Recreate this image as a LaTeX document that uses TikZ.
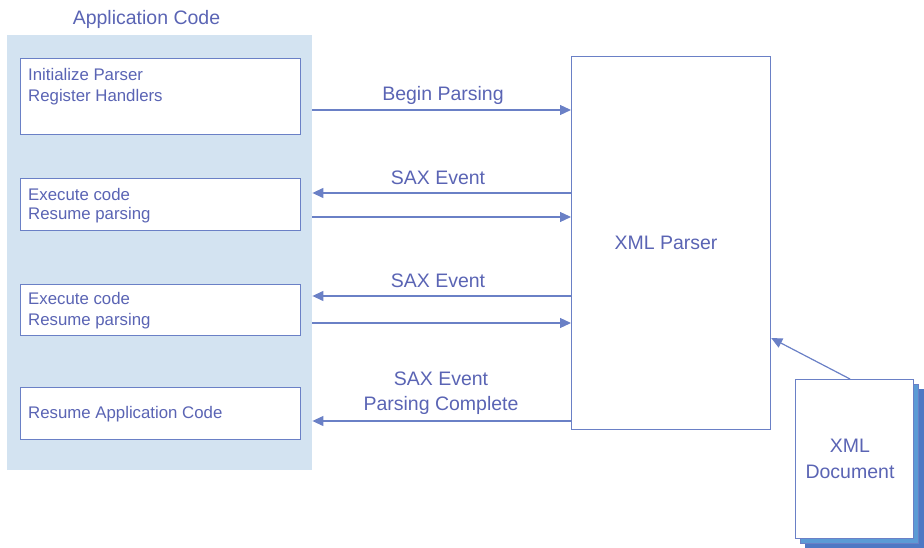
\documentclass[tikz,border=0pt]{standalone}
\usepackage{fontspec}
\setmainfont{Liberation Sans}
\usetikzlibrary{arrows.meta,calc}
\definecolor{txt}{HTML}{5A64B4}
\definecolor{ln}{HTML}{6A80C6}
\definecolor{panel}{HTML}{D3E3F1}
\definecolor{shadowA}{HTML}{5B9BD5}
\definecolor{shadowB}{HTML}{4E78C4}
\tikzset{
  box/.style={draw=ln, line width=1.2pt, fill=white, inner sep=0pt},
  lbl/.style={text=txt, font=\fontsize{19.5}{25}\selectfont, inner sep=0pt, align=center},
  btxt/.style={text=txt, font=\fontsize{16.8}{22}\selectfont, inner sep=0pt, anchor=west},
  arr/.style={draw=ln, line width=1.2pt, -{Triangle[length=11pt,width=10pt]}},
}
\begin{document}
\begin{tikzpicture}[x=1pt,y=-1pt]
\useasboundingbox (0,0) rectangle (924,548);
% panel
\node[fill=panel, minimum width=305pt, minimum height=435pt, inner sep=0pt, anchor=north west] (panel) at (7,35) {};
\node[lbl] (apptitle) at (146.5,19.5) {Application Code};
% boxes
\node[box, minimum width=280pt, minimum height=76pt, anchor=north west] (b1) at (20,58) {};
\node[box, minimum width=280pt, minimum height=52pt, anchor=north west] (b2) at (20,178) {};
\node[box, minimum width=280pt, minimum height=51pt, anchor=north west] (b3) at (20,284) {};
\node[box, minimum width=280pt, minimum height=52pt, anchor=north west] (b4) at (20,387) {};
\node[btxt] (t1a) at (28,74.5) {Initialize Parser};
\node[btxt] (t1b) at (28,97.5) {Register Handlers};
\node[btxt] (t2a) at (28,194) {Execute code};
\node[btxt] (t2b) at (28,215.5) {Resume parsing};
\node[btxt] (t3a) at (28,298) {Execute code};
\node[btxt] (t3b) at (28,321) {Resume parsing};
\node[btxt] (t4) at (28,414.5) {Resume Application Code};
% parser
\node[box, minimum width=199pt, minimum height=373pt, anchor=north west] (parser) at (571,56) {};
\node[lbl] (ptxt) at (666,243) {XML Parser};
% document with stacked pages
\node[box, fill=shadowB, draw=shadowB, minimum width=118pt, minimum height=159pt, anchor=north west] (d3) at (805,389) {};
\node[box, fill=shadowA, draw=ln, minimum width=118pt, minimum height=159pt, anchor=north west] (d2) at (800,384) {};
\node[box, minimum width=118pt, minimum height=159pt, anchor=north west] (doc) at (795,379) {};
\node[lbl, font=\fontsize{19.5}{26}\selectfont] (dtxt) at (850,459) {XML\\Document};
% arrows
\draw[arr] (panel.east |- 0,110) -- (parser.west |- 0,110);
\draw[arr] (parser.west |- 0,193) -- (panel.east |- 0,193);
\draw[arr] (panel.east |- 0,217) -- (parser.west |- 0,217);
\draw[arr] (parser.west |- 0,296) -- (panel.east |- 0,296);
\draw[arr] (panel.east |- 0,323) -- (parser.west |- 0,323);
\draw[arr] (parser.west |- 0,421) -- (panel.east |- 0,421);
\coordinate (dtop) at (850,379);
\draw[arr] (dtop) -- (parser.east |- 0,338);
% labels
\node[lbl] (l1) at (443,95.5) {Begin Parsing};
\node[lbl] (l2) at (438,178) {SAX Event};
\node[lbl] (l3) at (438,281) {SAX Event};
\node[lbl] (l4) at (441,393) {SAX Event\\Parsing Complete};
\end{tikzpicture}
\end{document}
